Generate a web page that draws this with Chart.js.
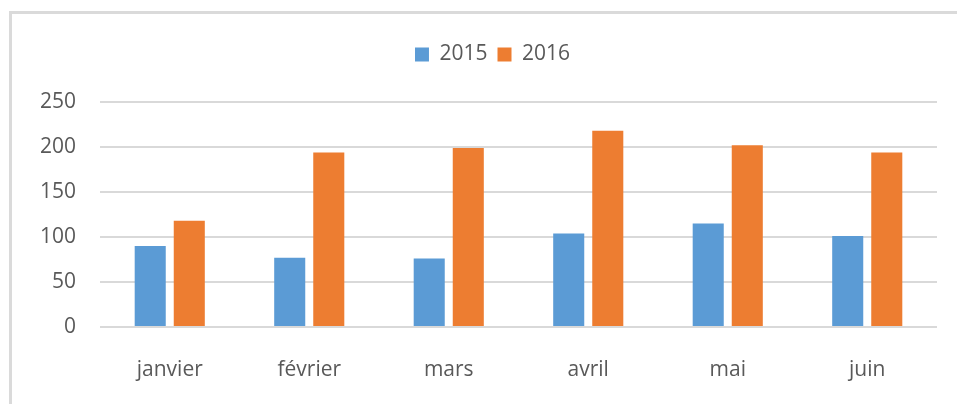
<!DOCTYPE html>
<html lang="fr">
<head>
<meta charset="utf-8">
<title>2015 / 2016</title>
<script src="https://cdn.jsdelivr.net/npm/chart.js@4.4.1/dist/chart.umd.min.js"></script>
<style>
  html, body { margin: 0; padding: 0; background: #fff; overflow: hidden; }
  #frame {
    position: absolute;
    left: 9px;
    top: 11px;
    width: 960px;
    height: 400px;
    border-left: 3px solid #dadada;
    border-top: 3px solid #dadada;
  }
  #chart { display: block; }
</style>
</head>
<body>
<div id="frame"><canvas id="chart" width="960" height="390"></canvas></div>
<script>
"use strict";

/* data */
const MONTHS = ["janvier", "février", "mars", "avril", "mai", "juin"];
const SERIES_2015 = [90, 77, 76, 104, 115, 101];
const SERIES_2016 = [118, 194, 199, 218, 202, 194];
const Y_TICKS = [0, 50, 100, 150, 200, 250];

const TEXT_COLOR = "#595959";
const GRID_COLOR = "#d9d9d9";
const FONT = { family: "'Open Sans', sans-serif", size: 21 };

// legend box: fixed height so the plot starts lower, and nudged to the
// centre of the whole frame (Excel centres it on the chart, not the plot)
const legendBox = {
  id: "legendBox",
  beforeInit(chart) {
    const legend = chart.legend;
    if (!legend) return;
    const fit = legend.fit;
    legend.fit = function () {
      fit.call(this);
      this.height = 68;
    };
  },
  afterLayout(chart) {
    const legend = chart.legend;
    if (!legend) return;
    legend.left += 6;
    legend.right += 6;
  },
};

new Chart(document.getElementById("chart"), {
  type: "bar",
  data: {
    labels: MONTHS,
    datasets: [
      { label: "2015", data: SERIES_2015, backgroundColor: "#5B9BD5" },
      { label: "2016", data: SERIES_2016, backgroundColor: "#ED7D31" },
    ],
  },
  plugins: [legendBox],
  options: {
    responsive: false,
    animation: false,
    categoryPercentage: 0.56,
    barPercentage: 0.795,
    layout: { padding: { top: 20, right: 35, bottom: 0, left: 24 } },
    plugins: {
      tooltip: { enabled: false },
      legend: {
        position: "top",
        align: "center",
        labels: {
          color: TEXT_COLOR,
          font: FONT,
          boxWidth: 14,
          boxHeight: 14,
          padding: 10,
        },
      },
    },
    scales: {
      x: {
        afterFit: (axis) => {
          axis.height = 77;
        },
        grid: { display: false, drawTicks: false },
        border: { display: false },
        ticks: { color: TEXT_COLOR, font: FONT, padding: 30, maxRotation: 0 },
      },
      y: {
        min: Y_TICKS[0],
        max: Y_TICKS[Y_TICKS.length - 1],
        afterBuildTicks: (axis) => {
          axis.ticks = Y_TICKS.map((v) => ({ value: v }));
        },
        afterFit: (axis) => {
          axis.width = 64;
        },
        grid: { color: GRID_COLOR, lineWidth: 2, drawTicks: false },
        border: { display: false },
        ticks: { color: TEXT_COLOR, font: FONT, padding: 24 },
      },
    },
  },
});
</script>
</body>
</html>
